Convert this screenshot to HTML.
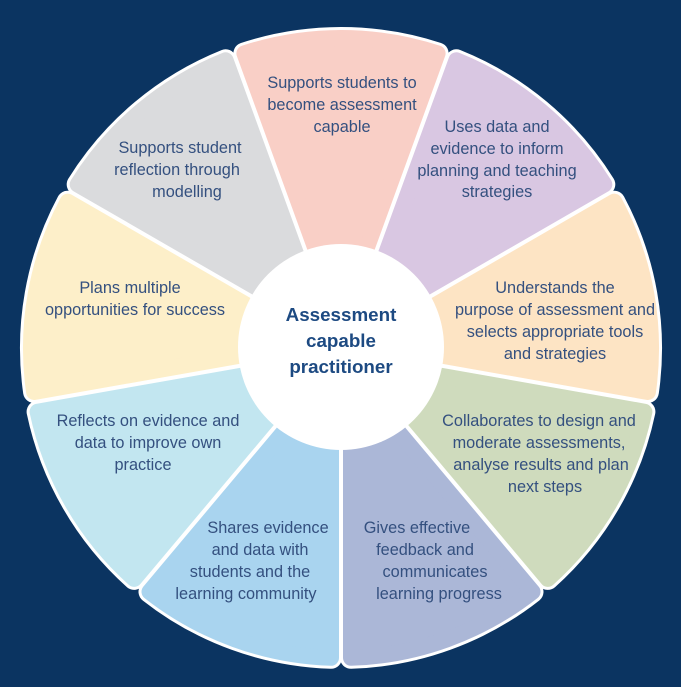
<!DOCTYPE html>
<html><head><meta charset="utf-8"><style>
html,body{margin:0;padding:0;background:#0b3461;}
svg{display:block}
text{font-family:"Liberation Sans",sans-serif;font-size:16.3px;fill:#34507f;text-anchor:middle}
.c{font-weight:bold;font-size:18.8px;fill:#1d4a82}
</style></head><body>
<svg id="s" width="681" height="687" viewBox="0 0 681 687">
<rect width="681" height="687" fill="#0b3461"/>
<g id="segs"></g>
<circle cx="341" cy="347" r="103" fill="#fff"/>
<g id="t">
<text x="342" y="88">Supports students to</text>
<text x="342" y="110">become assessment</text>
<text x="342" y="132">capable</text>
<text x="497" y="132">Uses data and</text>
<text x="497" y="154">evidence to inform</text>
<text x="497" y="176">planning and teaching</text>
<text x="497" y="197">strategies</text>
<text x="555" y="293">Understands the</text>
<text x="555" y="315">purpose of assessment and</text>
<text x="555" y="337">selects appropriate tools</text>
<text x="555" y="359">and strategies</text>
<text x="539" y="426">Collaborates to design and</text>
<text x="539" y="448">moderate assessments,</text>
<text x="541" y="470">analyse results and plan</text>
<text x="545" y="492">next steps</text>
<text x="417" y="533">Gives effective</text>
<text x="425" y="555">feedback and</text>
<text x="435" y="577">communicates</text>
<text x="439" y="599">learning progress</text>
<text x="268" y="533">Shares evidence</text>
<text x="260" y="555">and data with</text>
<text x="250" y="577">students and the</text>
<text x="246" y="599">learning community</text>
<text x="148" y="426">Reflects on evidence and</text>
<text x="148" y="448">data to improve own</text>
<text x="143" y="470">practice</text>
<text x="130" y="293">Plans multiple</text>
<text x="135" y="315">opportunities for success</text>
<text x="180" y="153">Supports student</text>
<text x="177" y="175">reflection through</text>
<text x="187" y="197">modelling</text>
<text class="c" x="341" y="321">Assessment</text>
<text class="c" x="341" y="347">capable</text>
<text class="c" x="341" y="373">practitioner</text>
</g>
</svg>
<script>
(function(){
var cx=341,cy=348,R=318,r=8,d=10;
var cols=["#f9cfc6","#d9c7e2","#fde4c4","#cfdbbd","#abb7d7","#a9d4ef","#c2e6f0","#fdefc9","#dadbdd"];
var g=document.getElementById('segs');
var Rp=R-r, h=20*Math.PI/180;
var whites="",colors="";
for(var i=0;i<9;i++){
 var phi=(-90+40*i)*Math.PI/180;
 var ad=d/Math.sin(h);
 var ax=ad*Math.cos(phi), ay=ad*Math.sin(phi);
 function corner(a){
  var ux=Math.cos(a),uy=Math.sin(a);
  var b=ax*ux+ay*uy, c=ax*ax+ay*ay-Rp*Rp;
  var t=-b+Math.sqrt(b*b-c);
  return [cx+ax+t*ux, cy+ay+t*uy];
 }
 var p1=corner(phi-h), p2=corner(phi+h);
 var dpath="M"+(cx+ax).toFixed(1)+","+(cy+ay).toFixed(1)+" L"+p1[0].toFixed(1)+","+p1[1].toFixed(1)+" A"+Rp+","+Rp+" 0 0 1 "+p2[0].toFixed(1)+","+p2[1].toFixed(1)+" Z";
 whites+='<path d="'+dpath+'" fill="#fff" stroke="#fff" stroke-width="'+(2*r+6)+'" stroke-linejoin="round"/>';
 colors+='<path d="'+dpath+'" fill="'+cols[i]+'" stroke="'+cols[i]+'" stroke-width="'+(2*r)+'" stroke-linejoin="round"/>';
}
g.innerHTML=whites+colors;
})();
</script>
</body></html>
